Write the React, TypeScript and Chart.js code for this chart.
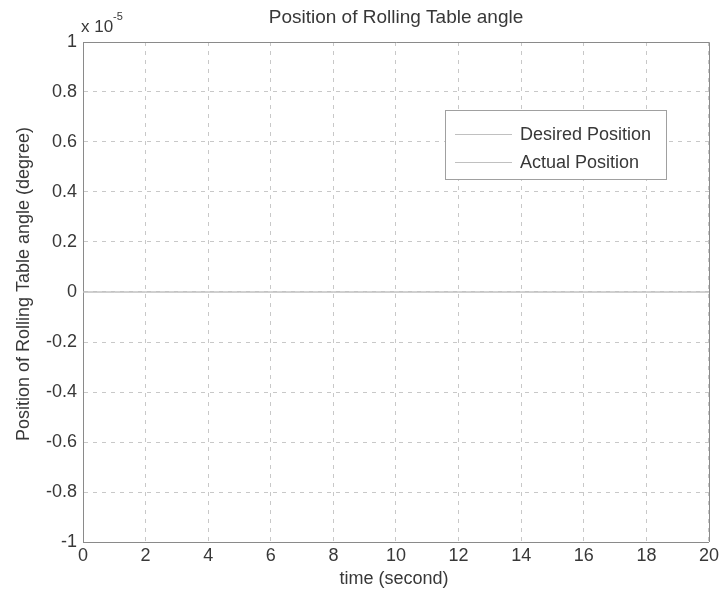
import React, { useEffect, useRef } from "react";
import { Chart, registerables } from "chart.js";
Chart.register(...registerables);

const timeValues = [0, 1, 2, 3, 4, 5, 6, 7, 8, 9, 10, 11, 12, 13, 14, 15, 16, 17, 18, 19, 20];
const desiredPosition = [0, 0, 0, 0, 0, 0, 0, 0, 0, 0, 0, 0, 0, 0, 0, 0, 0, 0, 0, 0, 0];
const actualPosition = [0, 0, 0, 0, 0, 0, 0, 0, 0, 0, 0, 0, 0, 0, 0, 0, 0, 0, 0, 0, 0];
const seriesNames = ["Desired Position", "Actual Position"];
const chartTitle = "Position of Rolling Table angle";
const xTitle = "time (second)";
const yTitle = "Position of Rolling Table angle (degree)";
const yExponent = "-5";

const FONT = "'Liberation Sans', Arial, sans-serif";
const TEXT = "#383838";
const GRID = "#c8c8c8";
const FRAME = "#8a8a8a";
const LINE = "#c0c0c0";

export default function App() {
  const ref = useRef<HTMLCanvasElement | null>(null);
  useEffect(() => {
    if (!ref.current) return;
    const deco = {
      id: "deco",
      afterDraw(chart: any) {
        const ctx = chart.ctx;
        const a = chart.chartArea;
        ctx.save();
        ctx.strokeStyle = FRAME;
        ctx.lineWidth = 1;
        ctx.setLineDash([]);
        ctx.beginPath();
        ctx.moveTo(a.left, a.top + 0.5);
        ctx.lineTo(a.right + 0.5, a.top + 0.5);
        ctx.lineTo(a.right + 0.5, a.bottom);
        ctx.stroke();
        ctx.fillStyle = TEXT;
        ctx.font = `19px ${FONT}`;
        ctx.textAlign = "center";
        ctx.textBaseline = "alphabetic";
        ctx.fillText(chartTitle, 396, 23);
        ctx.font = `18px ${FONT}`;
        ctx.fillText(xTitle, 394, 584);
        ctx.save();
        ctx.translate(29, 284);
        ctx.rotate(-Math.PI / 2);
        ctx.fillText(yTitle, 0, 0);
        ctx.restore();
        ctx.textAlign = "left";
        ctx.font = `17px ${FONT}`;
        ctx.fillText("x 10", a.left - 2, 32);
        ctx.font = `11px ${FONT}`;
        ctx.fillText(yExponent, a.left + 30, 20);
        const lx = 445, ly = 110, lw = 221, lh = 69;
        ctx.fillStyle = "#ffffff";
        ctx.fillRect(lx, ly, lw, lh);
        ctx.strokeStyle = "#a0a0a0";
        ctx.strokeRect(lx + 0.5, ly + 0.5, lw, lh);
        ctx.font = `18px ${FONT}`;
        ctx.fillStyle = TEXT;
        const rows = [140, 168];
        seriesNames.forEach((n, i) => {
          ctx.strokeStyle = LINE;
          ctx.beginPath();
          ctx.moveTo(lx + 10, rows[i] - 6 + 0.5);
          ctx.lineTo(lx + 67, rows[i] - 6 + 0.5);
          ctx.stroke();
          ctx.fillText(n, lx + 75, rows[i]);
        });
        ctx.restore();
      },
    };
    const chart = new Chart(ref.current, {
      type: "line",
      data: {
        labels: timeValues,
        datasets: [
          {
            label: seriesNames[0],
            data: timeValues.map((t, i) => ({ x: t, y: desiredPosition[i] })),
            borderColor: LINE,
            borderWidth: 1,
            pointRadius: 0,
          },
          {
            label: seriesNames[1],
            data: timeValues.map((t, i) => ({ x: t, y: actualPosition[i] })),
            borderColor: LINE,
            borderWidth: 1,
            pointRadius: 0,
          },
        ],
      },
      plugins: [deco],
      options: {
        animation: false,
        responsive: false,
        maintainAspectRatio: false,
        layout: { padding: { top: 42, right: 12, left: 0, bottom: 0 } },
        plugins: { legend: { display: false }, title: { display: false }, tooltip: { enabled: false } },
        scales: {
          x: {
            type: "linear",
            min: 0,
            max: 20,
            ticks: { stepSize: 2, color: TEXT, font: { family: FONT, size: 18 }, padding: 3, maxRotation: 0 },
            grid: { color: GRID, drawTicks: false, tickLength: 0 },
            border: { color: FRAME, dash: [4, 5] } as any,
            afterFit: (s: any) => { s.height = 50; },
          },
          y: {
            type: "linear",
            min: -1e-5,
            max: 1e-5,
            ticks: {
              stepSize: 0.2e-5,
              color: TEXT,
              font: { family: FONT, size: 18 },
              padding: 6,
              callback: (v: any) => String(Math.round(Number(v) / 1e-6) / 10),
            },
            grid: { color: GRID, drawTicks: false, tickLength: 0 },
            border: { color: FRAME, dash: [4, 5] } as any,
            afterFit: (s: any) => { s.width = 83; },
          },
        },
      } as any,
    });
    return () => chart.destroy();
  }, []);
  return (
    <div style={{ position: "absolute", left: 0, top: 0, width: 722, height: 592, background: "#fff" }}>
      <canvas ref={ref} width={722} height={592} style={{ width: 722, height: 592 }} />
    </div>
  );
}
